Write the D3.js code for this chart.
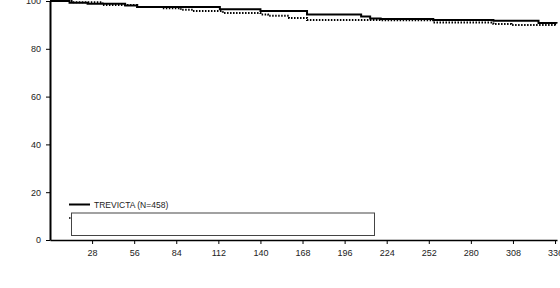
<!DOCTYPE html>
<html lang="en">
<head>
<meta charset="utf-8">
<title>Relapse-free survival</title>
<script src="https://d3js.org/d3.v7.min.js"></script>
<style>
body{
  margin:0;
  background:#fff;
}
.axis text{
  font: 9px "Liberation Sans", Arial, sans-serif;
  fill: #222;
}
.axis path, .axis line{
  stroke:#000;
  fill:none;
}
.legend text{
  font: 8.5px "Liberation Sans", Arial, sans-serif;
  fill:#222;
}
</style>
</head>
<body>
<div id="chart"></div>
<script>
// day, % relapse free
var trevDays  = [0, 13, 25, 50, 58, 113, 140, 171, 207, 213, 220, 255, 295, 325, 337];
var trevVals  = [100, 99.3, 98.8, 98.1, 97.5, 96.5, 95.8, 94.4, 93.5, 92.7, 92.5, 92.1, 91.7, 90.8, 90.6];
var compDays  = [0, 15, 35, 58, 75, 87, 95, 115, 140, 145, 159, 171, 220, 255, 295, 307, 336];
var compVals  = [100, 99.5, 98.3, 97.5, 97.0, 96.3, 95.8, 95.0, 94.4, 93.8, 92.9, 92.0, 91.9, 91.0, 90.4, 90.0, 89.4];
var xTicks = [28, 56, 84, 112, 140, 168, 196, 224, 252, 280, 308, 336];
var yTicks = [0, 20, 40, 60, 80, 100];
var legendLabels = ["TREVICTA (N=458)"];

var W = 560, H = 288;
var svg = d3.select("#chart").append("svg")
  .attr("width", W).attr("height", H);

var x = d3.scaleLinear().domain([0, 337.3]).range([50, 557]);
var y = d3.scaleLinear().domain([0, 100]).range([240, 1]);

svg.append("g")
  .attr("class","axis")
  .attr("transform","translate(0,240)")
  .call(d3.axisBottom(x).tickValues(xTicks).tickSize(4).tickSizeOuter(0).tickPadding(6))
  .select(".domain").attr("stroke-width",1.5);

svg.append("g")
  .attr("class","axis")
  .attr("transform","translate(50,0)")
  .call(d3.axisLeft(y).tickValues(yTicks).tickSize(4).tickSizeOuter(0).tickPadding(5))
  .select(".domain").attr("stroke-width",2);

var line = d3.line()
  .x(function(d){ return x(d[0]); })
  .y(function(d){ return y(d[1]); })
  .curve(d3.curveStepAfter);

var comp = compDays.map(function(d,i){ return [d, compVals[i]]; });
var trev = trevDays.map(function(d,i){ return [d, trevVals[i]]; });

svg.append("path")
  .datum(comp)
  .attr("d", line)
  .attr("fill","none")
  .attr("stroke","#000")
  .attr("stroke-width",2)
  .attr("stroke-dasharray","1.5,1.5");

svg.append("path")
  .datum(trev)
  .attr("d", line)
  .attr("fill","none")
  .attr("stroke","#000")
  .attr("stroke-width",2);

// legend
var lg = svg.append("g").attr("class","legend");
lg.append("line")
  .attr("x1",69).attr("x2",90).attr("y1",204.5).attr("y2",204.5)
  .attr("stroke","#000").attr("stroke-width",2);
lg.append("text")
  .attr("x",94).attr("y",207.5)
  .text(legendLabels[0]);
lg.append("line")
  .attr("x1",69).attr("x2",90).attr("y1",218).attr("y2",218)
  .attr("stroke","#000").attr("stroke-width",1.5)
  .attr("stroke-dasharray","1.5,1.5");
// blank box sitting over second legend entry
lg.append("rect")
  .attr("x",71.5).attr("y",213).attr("width",303).attr("height",22.5)
  .attr("fill","#fff").attr("stroke","#444").attr("stroke-width",1);
</script>
</body>
</html>
